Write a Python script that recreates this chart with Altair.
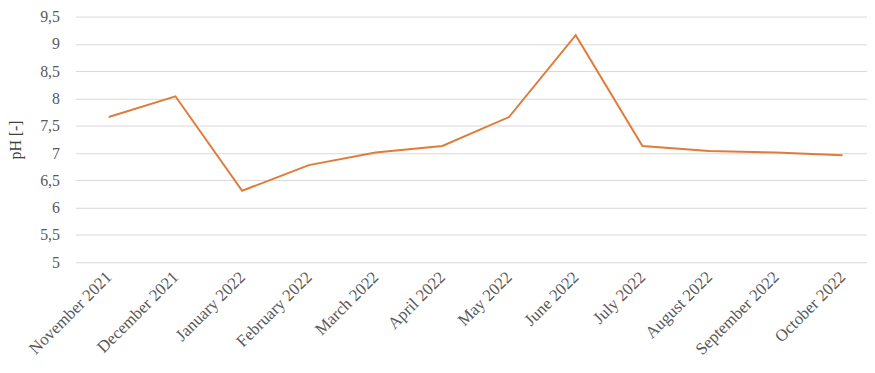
import altair as alt
import pandas as pd

months = ["November 2021", "December 2021", "January 2022", "February 2022",
          "March 2022", "April 2022", "May 2022", "June 2022", "July 2022",
          "August 2022", "September 2022", "October 2022"]
ph = [7.66, 8.04, 6.31, 6.78, 7.01, 7.13, 7.66, 9.16, 7.13, 7.04, 7.01, 6.96]
y_ticks = [5, 5.5, 6, 6.5, 7, 7.5, 8, 8.5, 9, 9.5]

df = pd.DataFrame({"month": months, "ph": ph})

chart = alt.Chart(df).mark_line(color="#E07B39", strokeWidth=2).encode(
    x=alt.X("month:N", sort=months, title=None,
            scale=alt.Scale(type="point", padding=0.5, range=[0, 808]),
            axis=alt.Axis(labelAngle=315, labelAlign="right", labelBaseline="middle",
                          labelPadding=12, ticks=False, domain=False, grid=False,
                          labelFont="Liberation Serif", labelFontSize=17,
                          labelColor="#595959")),
    y=alt.Y("ph:Q", title="pH [-]",
            scale=alt.Scale(domain=[5, 9.5], nice=False, zero=False),
            axis=alt.Axis(values=y_ticks, ticks=False, domain=False, grid=True,
                          gridColor="#d9d9d9", gridWidth=1,
                          labelExpr="replace(format(datum.value, '.1~f'), '.', ',')",
                          labelFont="Liberation Serif", labelFontSize=16,
                          labelColor="#595959", labelPadding=16,
                          titleFont="Liberation Serif", titleFontSize=16,
                          titleFontWeight="normal", titleColor="#404040",
                          titlePadding=16)),
).properties(
    width=799, height=248,
    autosize=alt.AutoSizeParams(type="none"),
    padding={"left": 68, "top": 7, "right": 0, "bottom": 100},
).configure_view(stroke=None)

chart.save("out.html", embed_options={"renderer": "svg", "actions": False})
